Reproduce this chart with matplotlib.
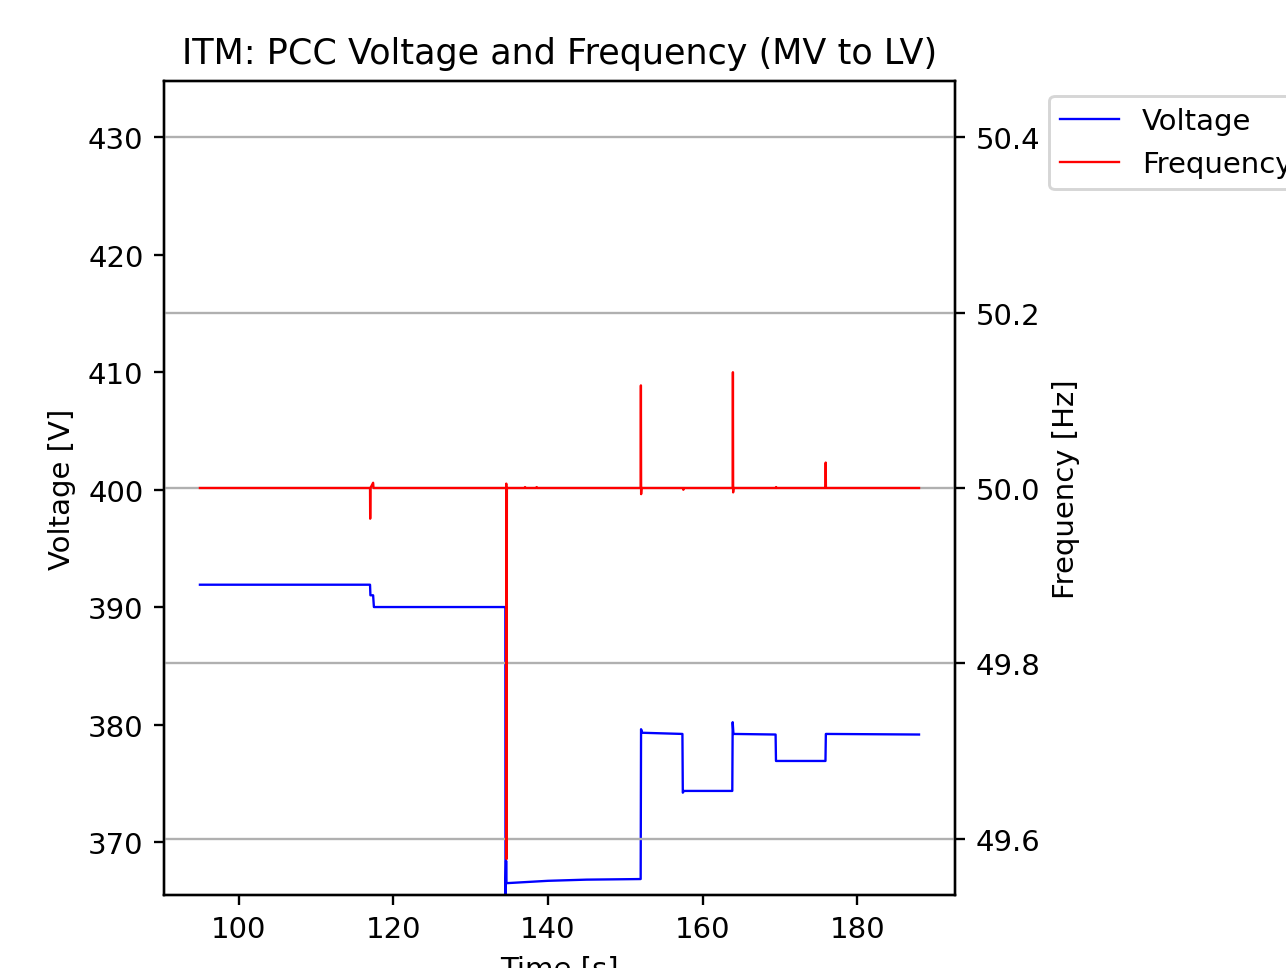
import matplotlib
matplotlib.use("Agg")
import matplotlib.pyplot as plt

# Voltage trace (time [s], voltage [V])
time_v = [95.0, 117.0, 117.05, 117.4, 117.5, 125.0, 134.5, 134.52, 134.6, 134.65,
          136.0, 140.0, 145.0, 152.0, 152.05, 152.2, 157.4, 157.45, 157.6, 163.85,
          163.9, 164.0, 169.45, 169.5, 175.9, 175.95, 188.0]
volt = [391.9, 391.9, 391.0, 391.0, 390.0, 390.0, 390.0, 365.0, 368.4, 366.5,
        366.55, 366.7, 366.8, 366.85, 379.6, 379.3, 379.2, 374.2, 374.35, 374.35,
        380.2, 379.2, 379.15, 376.9, 376.9, 379.2, 379.15]

# Frequency trace (time [s], frequency [Hz])
time_f = [95.0, 117.0, 117.02, 117.05, 117.4, 117.45, 134.6, 134.62, 134.65, 134.7,
          137.0, 137.05, 137.1, 138.5, 138.55, 138.6, 152.0, 152.03, 152.06, 152.1,
          157.5, 157.52, 157.55, 163.9, 163.93, 163.96, 164.0, 169.5, 169.52, 169.55,
          175.9, 175.93, 175.96, 188.0]
freq = [50.0, 50.0, 49.965, 50.0, 50.006, 50.0, 50.0, 50.005, 49.577, 50.0,
        50.0, 50.001, 50.0, 50.0, 50.001, 50.0, 50.0, 50.117, 49.993, 50.0,
        50.0, 49.998, 50.0, 50.0, 50.132, 49.995, 50.0, 50.0, 50.001, 50.0,
        50.0, 50.029, 50.0, 50.0]

volt_ticks = [370, 380, 390, 400, 410, 420, 430]
freq_ticks = [49.6, 49.8, 50.0, 50.2, 50.4]

DPI = 210
fig = plt.figure(figsize=(1286 / DPI, 969 / DPI), dpi=DPI)
fig.subplots_adjust(left=0.1275, right=0.7426, bottom=0.0753, top=0.9154)
ax = fig.add_subplot(111)
ax2 = ax.twinx()

l1, = ax.plot(time_v, volt, color="blue", lw=0.8, label="Voltage")
l2, = ax2.plot(time_f, freq, color="red", lw=0.8, label="Frequency")

ax.set_ylim(365.49, 434.77)
ax.set_yticks(volt_ticks)
ax2.set_ylim(49.536, 50.464)
ax2.set_yticks(freq_ticks)
ax2.grid(True, color="#b0b0b0", lw=0.8)

ax.set_xlabel("Time [s]")
ax.set_ylabel("Voltage [V]")
ax2.set_ylabel("Frequency [Hz]")
ax.set_title("ITM: PCC Voltage and Frequency (MV to LV)")

ax.legend([l1, l2], ["Voltage", "Frequency"], loc="upper left", bbox_to_anchor=(1.1, 1.0))

fig.savefig("out.png", dpi=DPI)
